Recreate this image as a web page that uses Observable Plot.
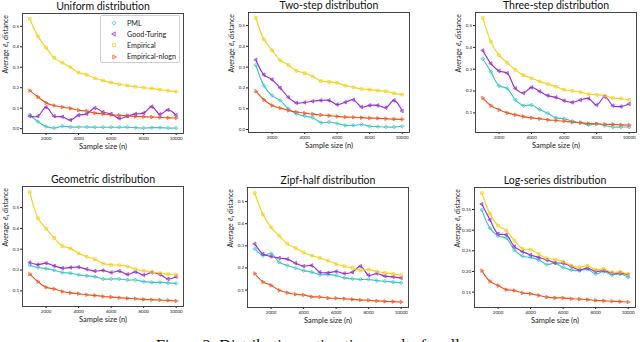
<!DOCTYPE html>
<html>
<head>
<meta charset="utf-8">
<script src="https://cdn.jsdelivr.net/npm/d3@7"></script>
<script src="https://cdn.jsdelivr.net/npm/@observablehq/plot@0.6"></script>
<style>
  html, body { margin: 0; padding: 0; background: #fff; }
  #wrap { position: relative; width: 640px; height: 342px; overflow: hidden; background: #fff; font-family: Lato, "DejaVu Sans", sans-serif; }
  .panel { position: absolute; }
  #legend { position: absolute; left: 100px; top: 15px; width: 80px; height: 48px; box-sizing: border-box; border: 1px solid #d0d0d0; border-radius: 2px; background: #fff; font-size: 7.2px; color: #222; }
  #legend .row { position: absolute; left: 0; height: 10px; display: flex; align-items: center; }
  #legend svg { width: 20px; height: 10px; margin-left: 3px; margin-right: 3px; }
  #caption { position: absolute; left: 156px; top: 338px; font-family: "Liberation Serif", serif; font-size: 16.3px; line-height: 16px; color: #111; white-space: nowrap; }
</style>
</head>
<body>
<div id="wrap"></div>
<script>
// ---------- data ----------
const sampleSizes = [1000, 1500, 2000, 2500, 3000, 3500, 4000, 4500, 5000, 5500, 6000, 6500, 7000, 7500, 8000, 8500, 9000, 9500, 10000];
const xTicks = [2000, 4000, 6000, 8000, 10000];
const seriesNames = ["PML", "Good-Turing", "Empirical", "Empirical-nlogn"];
const seriesColors = ["#3cc6c6", "#9a2bd6", "#f7d11a", "#f2541d"];
const panelTitles = ["Uniform distribution", "Two-step distribution", "Three-step distribution",
                     "Geometric distribution", "Zipf-half distribution", "Log-series distribution"];

// Uniform
const uniformPML   = [0.068, 0.034, 0.010, 0.003, 0.012, 0.008, 0.008, 0.008, 0.007, 0.007, 0.007, 0.007, 0.007, 0.005, 0.003, 0.005, 0.005, 0.003, 0.003];
const uniformGT    = [0.061, 0.061, 0.105, 0.061, 0.058, 0.042, 0.066, 0.072, 0.101, 0.081, 0.072, 0.050, 0.061, 0.072, 0.076, 0.108, 0.070, 0.092, 0.066];
const uniformEmp   = [0.536, 0.451, 0.396, 0.346, 0.322, 0.300, 0.274, 0.263, 0.246, 0.235, 0.225, 0.217, 0.210, 0.205, 0.200, 0.197, 0.190, 0.186, 0.181];
const uniformNlogn = [0.186, 0.155, 0.126, 0.113, 0.105, 0.099, 0.090, 0.086, 0.076, 0.072, 0.068, 0.065, 0.063, 0.060, 0.058, 0.057, 0.055, 0.053, 0.052];
// Two-step
const twoStepPML   = [0.310, 0.211, 0.163, 0.140, 0.100, 0.076, 0.065, 0.057, 0.033, 0.036, 0.029, 0.020, 0.020, 0.024, 0.016, 0.014, 0.012, 0.012, 0.016];
const twoStepGT    = [0.335, 0.263, 0.240, 0.200, 0.155, 0.128, 0.130, 0.136, 0.140, 0.140, 0.120, 0.131, 0.143, 0.108, 0.116, 0.116, 0.105, 0.140, 0.089];
const twoStepEmp   = [0.536, 0.433, 0.381, 0.333, 0.310, 0.282, 0.271, 0.255, 0.233, 0.229, 0.224, 0.211, 0.203, 0.195, 0.192, 0.187, 0.184, 0.174, 0.168];
const twoStepNlogn = [0.184, 0.143, 0.116, 0.103, 0.092, 0.084, 0.079, 0.074, 0.070, 0.067, 0.063, 0.060, 0.059, 0.057, 0.055, 0.054, 0.052, 0.050, 0.049];
// Three-step
const threeStepPML   = [0.348, 0.288, 0.224, 0.212, 0.160, 0.133, 0.136, 0.115, 0.098, 0.077, 0.073, 0.062, 0.055, 0.045, 0.050, 0.042, 0.035, 0.035, 0.035];
const threeStepGT    = [0.386, 0.326, 0.292, 0.282, 0.212, 0.191, 0.217, 0.198, 0.179, 0.171, 0.156, 0.148, 0.159, 0.166, 0.136, 0.174, 0.133, 0.129, 0.141];
const threeStepEmp   = [0.535, 0.426, 0.364, 0.330, 0.297, 0.273, 0.259, 0.244, 0.232, 0.220, 0.206, 0.201, 0.195, 0.186, 0.183, 0.179, 0.168, 0.166, 0.160];
const threeStepNlogn = [0.168, 0.133, 0.114, 0.100, 0.091, 0.083, 0.077, 0.073, 0.068, 0.065, 0.062, 0.057, 0.055, 0.051, 0.050, 0.048, 0.047, 0.045, 0.044];
// Geometric
const geometricPML   = [0.223, 0.212, 0.207, 0.199, 0.188, 0.185, 0.177, 0.172, 0.168, 0.157, 0.157, 0.157, 0.152, 0.152, 0.144, 0.141, 0.141, 0.138, 0.136];
const geometricGT    = [0.236, 0.226, 0.233, 0.220, 0.209, 0.212, 0.214, 0.204, 0.195, 0.198, 0.188, 0.195, 0.179, 0.191, 0.176, 0.188, 0.179, 0.157, 0.168];
const geometricEmp   = [0.575, 0.449, 0.399, 0.354, 0.315, 0.304, 0.280, 0.264, 0.252, 0.231, 0.225, 0.223, 0.217, 0.204, 0.196, 0.191, 0.185, 0.180, 0.177];
const geometricNlogn = [0.180, 0.144, 0.117, 0.109, 0.097, 0.090, 0.086, 0.081, 0.078, 0.073, 0.070, 0.067, 0.064, 0.062, 0.059, 0.057, 0.056, 0.054, 0.051];
// Zipf-half
const zipfPML   = [0.287, 0.256, 0.265, 0.226, 0.211, 0.200, 0.188, 0.181, 0.170, 0.170, 0.166, 0.155, 0.151, 0.148, 0.148, 0.143, 0.140, 0.136, 0.133];
const zipfGT    = [0.309, 0.263, 0.252, 0.245, 0.240, 0.222, 0.208, 0.211, 0.181, 0.178, 0.184, 0.175, 0.181, 0.208, 0.167, 0.175, 0.163, 0.160, 0.155];
const zipfEmp   = [0.539, 0.442, 0.383, 0.345, 0.309, 0.290, 0.270, 0.256, 0.245, 0.233, 0.218, 0.208, 0.200, 0.190, 0.193, 0.184, 0.178, 0.173, 0.167];
const zipfNlogn = [0.175, 0.137, 0.122, 0.099, 0.088, 0.081, 0.078, 0.070, 0.069, 0.064, 0.063, 0.061, 0.058, 0.055, 0.054, 0.051, 0.049, 0.048, 0.046];
// Log-series
const logSeriesPML   = [0.349, 0.305, 0.286, 0.281, 0.252, 0.237, 0.234, 0.228, 0.217, 0.220, 0.210, 0.204, 0.202, 0.205, 0.194, 0.200, 0.192, 0.194, 0.186];
const logSeriesGT    = [0.363, 0.325, 0.291, 0.289, 0.260, 0.248, 0.240, 0.234, 0.228, 0.221, 0.220, 0.212, 0.204, 0.208, 0.200, 0.202, 0.196, 0.196, 0.192];
const logSeriesEmp   = [0.390, 0.340, 0.311, 0.299, 0.275, 0.255, 0.253, 0.242, 0.232, 0.229, 0.224, 0.214, 0.210, 0.214, 0.204, 0.206, 0.198, 0.199, 0.194];
const logSeriesNlogn = [0.202, 0.176, 0.166, 0.156, 0.154, 0.148, 0.146, 0.142, 0.138, 0.136, 0.136, 0.134, 0.133, 0.132, 0.130, 0.129, 0.128, 0.127, 0.126];

// y tick values per panel
const yTicksUniform   = [0.0, 0.1, 0.2, 0.3, 0.4, 0.5];
const yTicksTwoStep   = [0.0, 0.1, 0.2, 0.3, 0.4, 0.5];
const yTicksThreeStep = [0.1, 0.2, 0.3, 0.4, 0.5];
const yTicksGeometric = [0.1, 0.2, 0.3, 0.4, 0.5];
const yTicksZipf      = [0.1, 0.2, 0.3, 0.4, 0.5];
const yTicksLogSeries = [0.15, 0.20, 0.25, 0.30, 0.35];

// ---------- layout ----------
const panels = [
  {title: panelTitles[0], series: [uniformPML, uniformGT, uniformEmp, uniformNlogn], ticks: yTicksUniform, fmt: ".1f", left: 0, top: 0},
  {title: panelTitles[1], series: [twoStepPML, twoStepGT, twoStepEmp, twoStepNlogn], ticks: yTicksTwoStep, fmt: ".1f", left: 226, top: -1},
  {title: panelTitles[2], series: [threeStepPML, threeStepGT, threeStepEmp, threeStepNlogn], ticks: yTicksThreeStep, fmt: ".1f", left: 453, top: -1},
  {title: panelTitles[3], series: [geometricPML, geometricGT, geometricEmp, geometricNlogn], ticks: yTicksGeometric, fmt: ".1f", left: 0, top: 173},
  {title: panelTitles[4], series: [zipfPML, zipfGT, zipfEmp, zipfNlogn], ticks: yTicksZipf, fmt: ".1f", left: 225, top: 174},
  {title: panelTitles[5], series: [logSeriesPML, logSeriesGT, logSeriesEmp, logSeriesNlogn], ticks: yTicksLogSeries, fmt: ".2f", left: 452, top: 174}
];

const symbolRange = ["diamond2", "triangle2", "square2", "triangle2"];
const rotateBySeries = {"PML": 0, "Good-Turing": -90, "Empirical": 0, "Empirical-nlogn": 90};
const wrap = document.getElementById("wrap");

for (const p of panels) {
  const rows = [];
  p.series.forEach((vals, si) => {
    vals.forEach((v, i) => rows.push({n: sampleSizes[i], v, series: seriesNames[si]}));
  });
  const ext = d3.extent(rows, d => d.v);
  const pad = (ext[1] - ext[0]) * 0.05;
  const xExt = d3.extent(sampleSizes);
  const xPad = (xExt[1] - xExt[0]) * 0.05;
  const chart = Plot.plot({
    width: 186, height: 161,
    marginLeft: 22, marginRight: 3, marginTop: 13, marginBottom: 28,
    style: {fontFamily: "Lato, 'DejaVu Sans', sans-serif", background: "transparent", color: "#222"},
    x: {domain: [xExt[0] - xPad, xExt[1] + xPad]},
    y: {domain: [ext[0] - pad, ext[1] + pad]},
    color: {domain: seriesNames, range: seriesColors},
    symbol: {domain: seriesNames, range: symbolRange},
    marks: [
      Plot.axisX({ticks: xTicks, tickSize: 2, tickPadding: 1.5, fontSize: 4.5, label: null, tickFormat: d => String(d)}),
      Plot.axisY({ticks: p.ticks, tickSize: 2, tickPadding: 1.5, fontSize: 4.5, label: null, tickFormat: d3.format(p.fmt)}),
      Plot.line(rows, {x: "n", y: "v", z: "series", stroke: "series", curve: "catmull-rom", strokeWidth: 1.15}),
      Plot.dot(rows, {x: "n", y: "v", symbol: "series", stroke: "series", fill: "series", fillOpacity: 0.2,
                      strokeWidth: 0.7, r: 1.7, rotate: d => rotateBySeries[d.series]}),
      Plot.frame({stroke: "#333", strokeWidth: 0.9}),
      Plot.text([p.title], {text: d => d, frameAnchor: "top", lineAnchor: "middle", dy: -6.5, fontSize: 10.5, fill: "#111"}),
      Plot.text(["Sample size (n)"], {text: d => d, frameAnchor: "bottom", lineAnchor: "middle", dy: 13, fontSize: 7.5, fill: "#222"}),
      Plot.text(["Average \u2113\u2081 distance"], {text: d => d, frameAnchor: "left", lineAnchor: "middle", dx: -17, rotate: -90, fontSize: 6.8, fill: "#222"})
    ]
  });
  chart.classList.add("panel");
  chart.style.left = p.left + "px";
  chart.style.top = p.top + "px";
  wrap.appendChild(chart);
}

// ---------- legend (inside first panel) ----------
const legend = document.createElement("div");
legend.id = "legend";
const d3Symbols = {diamond2: d3.symbolDiamond2, triangle2: d3.symbolTriangle2, square2: d3.symbolSquare2};
seriesNames.forEach((name, i) => {
  const row = document.createElement("div");
  row.className = "row";
  row.style.top = (2 + i * 11.2) + "px";
  const path = d3.symbol(d3Symbols[symbolRange[i]], 12)();
  row.innerHTML = `<svg viewBox="-10 -5 20 10"><path d="${path}" transform="rotate(${rotateBySeries[name]})" stroke="${seriesColors[i]}" fill="${seriesColors[i]}" fill-opacity="0.2" stroke-width="0.7"/></svg><span>${name}</span>`;
  legend.appendChild(row);
});
wrap.appendChild(legend);

// ---------- caption ----------
const caption = document.createElement("div");
caption.id = "caption";
caption.textContent = "Figure 2: Distribution estimation results for all";
wrap.appendChild(caption);
</script>
</body>
</html>
